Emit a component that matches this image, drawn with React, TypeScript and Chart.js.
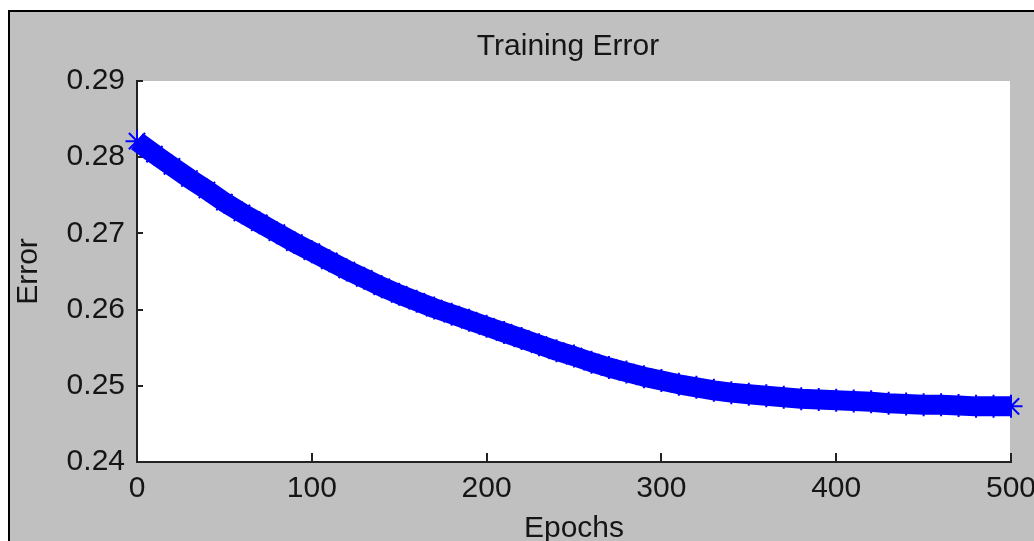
import React, { useEffect, useRef } from 'react';
import { Chart, registerables } from 'chart.js';

Chart.register(...registerables);

// ---- data ----
const epochs = [
  0, 10, 20, 30, 40, 50, 60, 70, 80, 90,
  100, 110, 120, 130, 140, 150, 160, 170, 180, 190,
  200, 210, 220, 230, 240, 250, 260, 270, 280, 290,
  300, 310, 320, 330, 340, 350, 360, 370, 380, 390,
  400, 410, 420, 430, 440, 450, 460, 470, 480, 490, 500,
];
const errors = [
  0.2821, 0.2804, 0.2788, 0.2772, 0.2757, 0.2741, 0.2727, 0.2714, 0.2701, 0.2688,
  0.2676, 0.2664, 0.2652, 0.2641, 0.2630, 0.2620, 0.2611, 0.2602, 0.2594, 0.2586,
  0.2578, 0.2570, 0.2562, 0.2554, 0.2546, 0.2539, 0.2531, 0.2524, 0.2518, 0.2512,
  0.2507, 0.2502, 0.2498, 0.2494, 0.2491, 0.2489, 0.2487, 0.2485, 0.2483, 0.2482,
  0.2481, 0.2480, 0.2479, 0.2477, 0.2476, 0.2475, 0.2475, 0.2474, 0.2473, 0.2473, 0.2473,
];
const xTicks = [0, 100, 200, 300, 400, 500];
const yTicks = [0.24, 0.25, 0.26, 0.27, 0.28, 0.29];
const titleText = 'Training Error';
const xLabel = 'Epochs';
const yLabel = 'Error';

const FONT = "'Liberation Sans', Arial, Helvetica, sans-serif";
const TEXT = '#151515';
const AXIS = '#222222';

const framePlugin = {
  id: 'frame',
  beforeDraw(chart: any) {
    const { ctx, chartArea: a } = chart;
    ctx.save();
    ctx.fillStyle = '#ffffff';
    ctx.fillRect(a.left, a.top, a.right - a.left - 1, a.bottom - a.top);
    ctx.restore();
  },
  beforeDatasetsDraw(chart: any) {
    const { ctx, chartArea: a, scales } = chart;
    ctx.save();
    ctx.strokeStyle = AXIS;
    ctx.lineWidth = 2;
    ctx.beginPath();
    for (const v of xTicks) {
      const px = Math.round(scales.x.getPixelForValue(v));
      ctx.moveTo(px, a.bottom);
      ctx.lineTo(px, a.bottom - 9);
    }
    for (const v of yTicks) {
      const py = Math.round(scales.y.getPixelForValue(v));
      ctx.moveTo(a.left, py);
      ctx.lineTo(a.left + 6, py);
    }
    ctx.stroke();
    ctx.restore();
  },
  afterDraw(chart: any) {
    const { ctx } = chart;
    ctx.save();
    ctx.font = `30px ${FONT}`;
    ctx.fillStyle = TEXT;
    ctx.textAlign = 'center';
    ctx.textBaseline = 'alphabetic';
    ctx.fillText(titleText, 568, 55);
    ctx.restore();
  },
};

export default function App() {
  const canvasRef = useRef<HTMLCanvasElement | null>(null);

  useEffect(() => {
    const canvas = canvasRef.current;
    if (!canvas) return;
    const chart = new Chart(canvas, {
      type: 'line',
      data: {
        datasets: [
          {
            label: yLabel,
            data: epochs.map((e, i) => ({ x: e, y: errors[i] })),
            borderColor: '#0000ff',
            backgroundColor: '#0000ff',
            borderWidth: 20,
            borderJoinStyle: 'round',
            pointStyle: 'star',
            pointRadius: 11.5,
            pointHoverRadius: 11.5,
            pointBorderWidth: 2,
            pointBorderColor: '#0000ff',
            pointBackgroundColor: '#0000ff',
            tension: 0,
            clip: false as any,
          },
        ],
      },
      options: {
        responsive: false,
        animation: false,
        events: [],
        layout: { padding: { top: 81, right: 23, bottom: 0, left: 0 } },
        plugins: {
          legend: { display: false },
          tooltip: { enabled: false },
          title: { display: false },
        },
        scales: {
          x: {
            type: 'linear',
            min: 0,
            max: 500,
            afterBuildTicks: (s: any) => {
              s.ticks = xTicks.map((v) => ({ value: v }));
            },
            ticks: {
              font: { size: 30, family: FONT, lineHeight: 1 },
              color: TEXT,
              padding: 12,
              maxRotation: 0,
              autoSkip: false,
              callback: (v: any) => String(v),
            },
            grid: { display: false, drawTicks: false },
            border: { display: true, color: AXIS, width: 2 },
            title: {
              display: true,
              text: xLabel,
              color: TEXT,
              font: { size: 30, family: FONT, lineHeight: 0.8 },
              padding: 0,
            },
            afterFit: (s: any) => {
              s.height = 79;
              s.paddingLeft = 0;
              s.paddingRight = 0;
            },
          },
          y: {
            type: 'linear',
            min: 0.24,
            max: 0.29,
            afterBuildTicks: (s: any) => {
              s.ticks = yTicks.map((v) => ({ value: v }));
            },
            ticks: {
              font: { size: 30, family: FONT, lineHeight: 1 },
              color: TEXT,
              padding: 12,
              autoSkip: false,
              callback: (v: any) => Number(v).toFixed(2),
            },
            grid: { display: false, drawTicks: false },
            border: { display: true, color: AXIS, width: 2 },
            title: {
              display: true,
              text: yLabel,
              color: TEXT,
              font: { size: 30, family: FONT, lineHeight: 1 },
              padding: { top: 14, bottom: 0 },
            },
            afterFit: (s: any) => {
              s.width = 137;
              s.paddingTop = 0;
              s.paddingBottom = 0;
            },
          },
        },
      } as any,
      plugins: [framePlugin],
    });
    return () => chart.destroy();
  }, []);

  return (
    <div
      style={{
        position: 'fixed',
        left: 0,
        top: 0,
        width: 1034,
        height: 541,
        background: '#ffffff',
        overflow: 'hidden',
      }}
    >
      <div
        style={{
          position: 'absolute',
          left: 8,
          top: 10,
          right: -10,
          bottom: -10,
          background: '#c0c0c0',
          borderLeft: '2px solid #000',
          borderTop: '2px solid #000',
        }}
      />
      <canvas
        ref={canvasRef}
        width={1034}
        height={541}
        style={{ position: 'absolute', left: 0, top: 0, width: 1034, height: 541 }}
      />
    </div>
  );
}
